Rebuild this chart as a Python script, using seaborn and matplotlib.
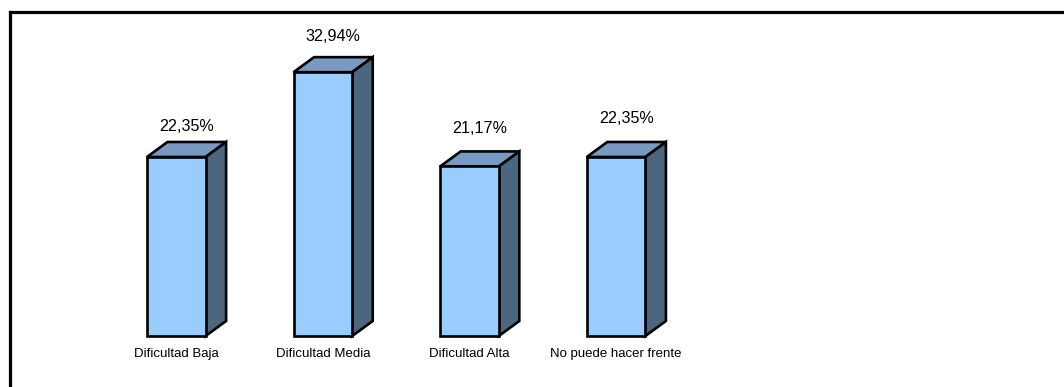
import matplotlib
matplotlib.use("Agg")
import matplotlib.pyplot as plt
from matplotlib.patches import Polygon
from matplotlib.lines import Line2D
import seaborn as sns
import pandas as pd

# ---- data ----
categories = ["Dificultad Baja", "Dificultad Media", "Dificultad Alta", "No puede hacer frente"]
values = [22.35, 32.94, 21.17, 22.35]

# ---- style ----
front_color = "#99CCFF"
top_color = "#7899C2"
side_color = "#4D6680"
sns.set_theme(style="white")
plt.rcParams["font.family"] = ["Liberation Sans", "DejaVu Sans"]

W, H, DPI = 1064, 387, 100
fig = plt.figure(figsize=(W / DPI, H / DPI), dpi=DPI)
ax = fig.add_axes([0, 0, 1, 1])

df = pd.DataFrame({"cat": categories, "val": values})
sns.barplot(data=df, x="cat", y="val", color=front_color, width=0.4,
            edgecolor="black", linewidth=1.9, saturation=1, ax=ax, zorder=3)

# layout: pixel geometry
x0_px, step_px = 176.3, 146.6
zero_px_from_bottom, px_per_unit = 51.0, 8.01
ax.set_xlim(-x0_px / step_px, (W - x0_px) / step_px)
ax.set_ylim(-zero_px_from_bottom / px_per_unit, (H - zero_px_from_bottom) / px_per_unit)
ax.set_axis_off()

dx_px, dy_px = 20.5, 15.0
dx = dx_px / step_px
dy = dy_px / px_per_unit
label_pad_px = [15, 21, 23, 23]

for i, p in enumerate(ax.patches):
    x = p.get_x()
    w = p.get_width()
    h = p.get_height()
    top = Polygon([(x, h), (x + dx, h + dy), (x + w + dx, h + dy), (x + w, h)],
                  closed=True, facecolor=top_color, edgecolor="black",
                  linewidth=1.9, joinstyle="miter", zorder=2)
    side = Polygon([(x + w, 0), (x + w + dx, dy), (x + w + dx, h + dy), (x + w, h)],
                   closed=True, facecolor=side_color, edgecolor="black",
                   linewidth=1.9, joinstyle="miter", zorder=2)
    ax.add_patch(top)
    ax.add_patch(side)
    p.set_joinstyle("miter")
    label = f"{values[i]:.2f}".replace(".", ",") + "%"
    ax.annotate(label, xy=(x + w / 2, h), xytext=(dx_px / 2 * 0.72, (dy_px + label_pad_px[i]) * 0.72),
                textcoords="offset points", ha="center", va="center",
                fontsize=11.6, color="black", zorder=5)
    ax.annotate(categories[i], xy=(x + w / 2, 0), xytext=(0, -21 * 0.72),
                textcoords="offset points", ha="center", va="baseline",
                fontsize=9.5, color="black", zorder=5)

# outer frame (top and left lines)
fig.add_artist(Line2D([9.5 / W, 1.0], [1 - 11.5 / H, 1 - 11.5 / H],
                      transform=fig.transFigure, color="black", linewidth=2.3,
                      solid_capstyle="projecting"))
fig.add_artist(Line2D([9.5 / W, 9.5 / W], [0, 1 - 11.5 / H],
                      transform=fig.transFigure, color="black", linewidth=2.3,
                      solid_capstyle="projecting"))

fig.savefig("out.png", dpi=DPI, facecolor="white")
